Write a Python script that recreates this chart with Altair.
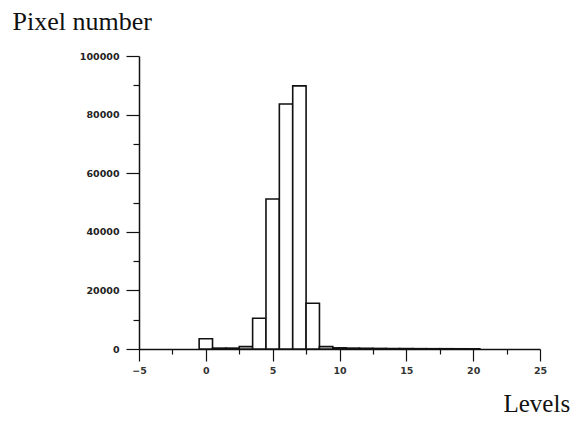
import altair as alt
import pandas as pd

levels = [0, 1, 2, 3, 4, 5, 6, 7, 8, 9, 10, 11, 12, 13, 14, 15, 16, 17, 18, 19, 20]
counts = [3500, 300, 300, 800, 10500, 51200, 83600, 89800, 15600, 800, 400,
          300, 250, 200, 150, 150, 120, 100, 100, 80, 60]

df = pd.DataFrame({"level": levels, "count": counts})

FONT_NUM = "DejaVu Sans"
FONT_TITLE = "Liberation Serif"

x_axis = alt.Axis(
    values=[-5, -2.5, 0, 2.5, 5, 7.5, 10, 12.5, 15, 17.5, 20, 22.5, 25],
    labelExpr="datum.value % 5 === 0 ? datum.label : ''",
    tickSize={"condition": {"test": "datum.value % 5 === 0", "value": 12}, "value": 5},
    labelPadding=4,
    labelFont=FONT_NUM, labelFontSize=9.5, labelFontWeight="bold", labelColor="#333",
    domainColor="#111", domainWidth=1.5, tickColor="#111", tickWidth=1.2,
    grid=False, labelFlush=False, labelOverlap=False,
    title="Levels", titleFont=FONT_TITLE, titleFontSize=25, titleFontWeight="normal",
    titleColor="#111", titleAlign="left", titleBaseline="alphabetic",
    titleX=364, titleY=62, titleAnchor="start",
)

y_axis = alt.Axis(
    values=list(range(0, 100001, 10000)),
    labelExpr="datum.value % 20000 === 0 ? datum.label : ''",
    tickSize={"condition": {"test": "datum.value % 20000 === 0", "value": 13}, "value": 6},
    labelPadding=7, format="d",
    labelFont=FONT_NUM, labelFontSize=9.5, labelFontWeight="bold", labelColor="#222",
    domainColor="#111", domainWidth=1.5, tickColor="#111", tickWidth=1.2,
    grid=False, labelFlush=False, labelOverlap=False,
    title="Pixel number", titleFont=FONT_TITLE, titleFontSize=26, titleFontWeight="normal",
    titleColor="#111", titleAngle=0, titleAlign="left", titleBaseline="alphabetic",
    titleX=-127, titleY=-27, titleAnchor="start",
)

chart = (
    alt.Chart(df)
    .transform_calculate(x0="datum.level - 0.5", x1="datum.level + 0.5")
    .mark_bar(fill="white", stroke="#111", strokeWidth=1.6)
    .encode(
        x=alt.X("x0:Q", scale=alt.Scale(domain=[-5, 25], nice=False, zero=False), axis=x_axis),
        x2="x1:Q",
        y=alt.Y("count:Q", scale=alt.Scale(domain=[0, 100000], nice=False), axis=y_axis),
        y2=alt.datum(0),
    )
    .properties(
        width=401, height=293,
        autosize=alt.AutoSizeParams(type="none"),
        padding={"left": 131, "top": 48, "right": 31, "bottom": 68},
        background="white",
    )
    .configure_view(stroke=None)
)

chart.save("out.html", embed_options={"renderer": "svg", "actions": False})
